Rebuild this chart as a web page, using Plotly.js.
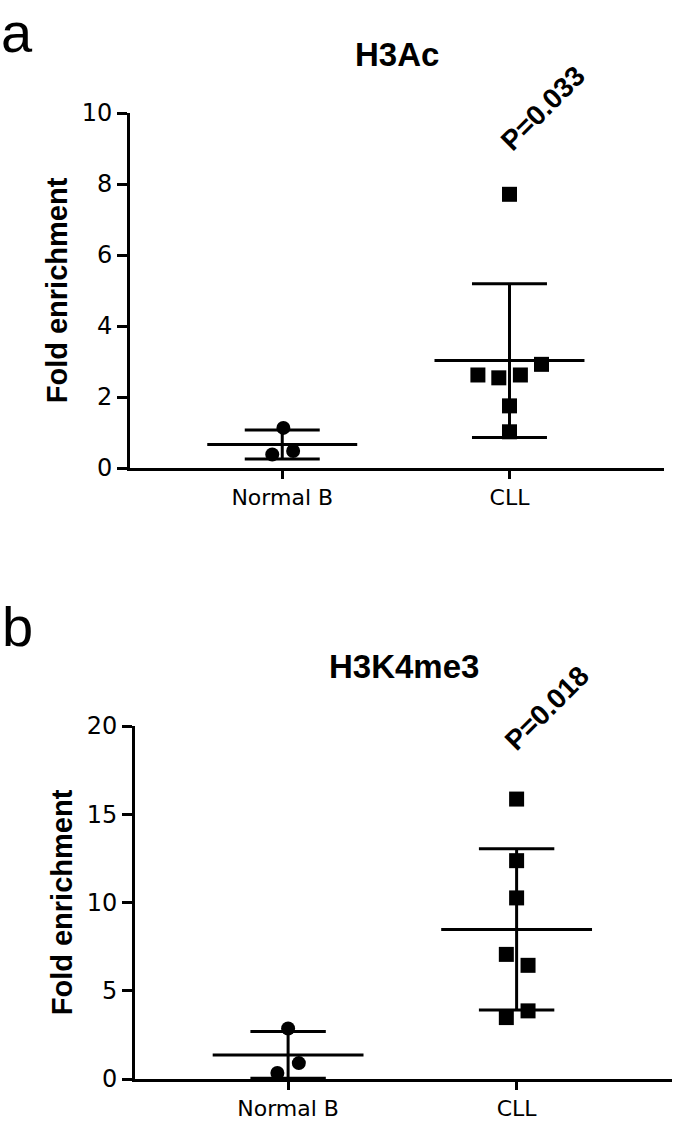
<!DOCTYPE html>
<html>
<head>
<meta charset="utf-8">
<script src="https://cdn.plot.ly/plotly-3.0.1.min.js"></script>
<style>
  html, body { margin: 0; padding: 0; background: #ffffff; }
  #chart { width: 675px; height: 1124px; }
</style>
</head>
<body>
<div id="chart"></div>
<script>
// ---- data ----
const categories = ["Normal B", "CLL"];
const panelTitles = ["H3Ac", "H3K4me3"];
const panelLetters = ["a", "b"];
const pValueLabels = ["P=0.033", "P=0.018"];

const h3acNormalB = [1.13, 0.38, 0.48];
const h3acCLL = [7.71, 2.62, 2.54, 2.62, 2.92, 1.75, 1.02];
const h3k4me3NormalB = [2.86, 0.90, 0.34];
const h3k4me3CLL = [15.86, 12.37, 10.26, 7.06, 6.44, 3.48, 3.86];

const topYTicks = [0, 2, 4, 6, 8, 10];
const bottomYTicks = [0, 5, 10, 15, 20];

// horizontal scatter offsets of the dots (layout, not data)
const jitterTopNormal = [0.005, -0.044, 0.048];
const jitterTopCLL = [0, -0.139, -0.047, 0.048, 0.141, 0, 0];
const jitterBottomNormal = [0, 0.047, -0.047];
const jitterBottomCLL = [0, 0, 0, -0.045, 0.05, -0.045, 0.05];

// ---- helpers ----
function mean(a) { return a.reduce((s, v) => s + v, 0) / a.length; }
function sd(a) {
  const m = mean(a);
  return Math.sqrt(a.reduce((s, v) => s + (v - m) * (v - m), 0) / (a.length - 1));
}

const MEAN_HALF = 0.33, CAP_HALF = 0.165;

function pointsTrace(vals, idx, jit, symbol, size, xa, ya) {
  return {
    type: "scatter", mode: "markers",
    x: vals.map((v, i) => idx + jit[i]), y: vals,
    marker: { symbol: symbol, size: size, color: "#000000" },
    cliponaxis: false, showlegend: false, hoverinfo: "y",
    xaxis: xa, yaxis: ya
  };
}
function summaryTrace(vals, idx, xa, ya) {
  const m = mean(vals), s = sd(vals);
  const x = [idx - MEAN_HALF, idx + MEAN_HALF, null,
             idx - CAP_HALF, idx + CAP_HALF, null,
             idx - CAP_HALF, idx + CAP_HALF, null,
             idx, idx];
  const y = [m, m, null,
             m + s, m + s, null,
             m - s, m - s, null,
             m - s, m + s];
  return {
    type: "scatter", mode: "lines", x: x, y: y,
    line: { color: "#000000", width: 3 },
    cliponaxis: false, showlegend: false, hoverinfo: "skip",
    xaxis: xa, yaxis: ya
  };
}

const traces = [
  summaryTrace(h3acNormalB, 0, "x", "y"),
  summaryTrace(h3acCLL, 1, "x", "y"),
  pointsTrace(h3acNormalB, 0, jitterTopNormal, "circle", 14, "x", "y"),
  pointsTrace(h3acCLL, 1, jitterTopCLL, "square", 15, "x", "y"),
  summaryTrace(h3k4me3NormalB, 0, "x2", "y2"),
  summaryTrace(h3k4me3CLL, 1, "x2", "y2"),
  pointsTrace(h3k4me3NormalB, 0, jitterBottomNormal, "circle", 14, "x2", "y2"),
  pointsTrace(h3k4me3CLL, 1, jitterBottomCLL, "square", 15, "x2", "y2")
];

const W = 675, H = 1124;
const yTickFont = { family: "DejaVu Sans, Liberation Sans, Arial, sans-serif", size: 24, color: "#000000" };
const xTickFont = { family: "DejaVu Sans, Liberation Sans, Arial, sans-serif", size: 22, color: "#000000" };
const yTitleFont = { family: "Liberation Sans, Arial, sans-serif", size: 29, color: "#000000", weight: "bold" };
const labelFont = { family: "Liberation Sans, Arial, sans-serif", size: 33, color: "#000000" };
const pFont = { family: "Liberation Sans, Arial, sans-serif", size: 28, color: "#000000" };
const letterFont = { family: "Liberation Sans, Arial, sans-serif", size: 56, color: "#000000" };

function xAxis(domain) {
  return {
    domain: domain, range: [-0.67, 1.68],
    tickmode: "array", tickvals: [0, 1], ticktext: categories,
    showline: true, linecolor: "#000000", linewidth: 3,
    ticks: "outside", ticklen: 8, tickwidth: 3, tickcolor: "#000000",
    showgrid: false, zeroline: false, tickfont: xTickFont, fixedrange: true
  };
}
function yAxis(domain, range, ticks, anchor) {
  return {
    domain: domain, range: range, anchor: anchor,
    tickmode: "array", tickvals: ticks, ticktext: ticks.map(String),
    showline: true, linecolor: "#000000", linewidth: 3,
    ticks: "outside", ticklen: 10, tickwidth: 3, tickcolor: "#000000",
    showgrid: false, zeroline: false, tickfont: yTickFont,
    title: { text: "<b>Fold enrichment</b>", font: yTitleFont, standoff: 6 },
    fixedrange: true
  };
}

const layout = {
  width: W, height: H,
  margin: { l: 0, r: 0, t: 0, b: 0 },
  paper_bgcolor: "#ffffff", plot_bgcolor: "#ffffff",
  showlegend: false,
  xaxis: Object.assign(xAxis([130 / W, 664 / W]), { anchor: "y" }),
  yaxis: yAxis([1 - 468 / H, 1 - 113 / H], [0, 10], topYTicks, "x"),
  xaxis2: Object.assign(xAxis([135 / W, 672 / W]), { anchor: "y2" }),
  yaxis2: yAxis([1 - 1079 / H, 1 - 726 / H], [0, 20], bottomYTicks, "x2"),
  annotations: [
    { text: panelLetters[0], xref: "paper", yref: "paper", x: 0.0, y: 1.0,
      xanchor: "left", yanchor: "top", showarrow: false, borderpad: 0, font: letterFont },
    { text: panelLetters[1], xref: "paper", yref: "paper", x: 0.0, y: 1 - 626 / H,
      xanchor: "left", yanchor: "middle", showarrow: false, font: letterFont },
    { text: "<b>" + panelTitles[0] + "</b>", xref: "x domain", yref: "paper", x: 0.5, y: 1 - 54 / H,
      xanchor: "center", yanchor: "middle", showarrow: false, font: labelFont },
    { text: "<b>" + panelTitles[1] + "</b>", xref: "x2 domain", yref: "paper", x: 0.5, y: 1 - 666 / H,
      xanchor: "center", yanchor: "middle", showarrow: false, font: labelFont },
    { text: "<b>" + pValueLabels[0] + "</b>", xref: "x", yref: "y domain", x: 1.145, y: (468 - 108) / 355,
      xanchor: "center", yanchor: "middle", textangle: -45, showarrow: false, font: pFont },
    { text: "<b>" + pValueLabels[1] + "</b>", xref: "x2", yref: "y2 domain", x: 1.13, y: (1079 - 708) / 353,
      xanchor: "center", yanchor: "middle", textangle: -45, showarrow: false, font: pFont }
  ]
};

Plotly.newPlot("chart", traces, layout, { displayModeBar: false, staticPlot: true });
</script>
</body>
</html>
